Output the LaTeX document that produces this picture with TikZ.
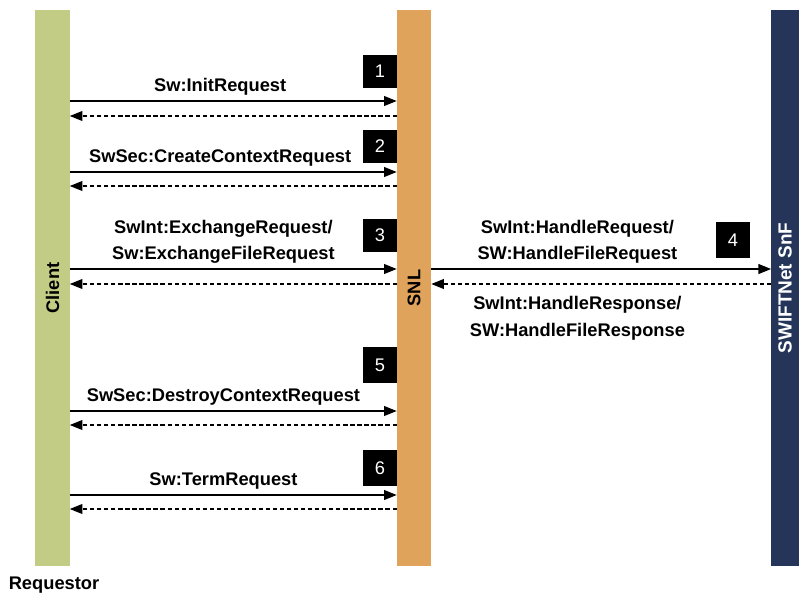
\documentclass[tikz,border=0pt]{standalone}
\usepackage{fontspec}
\setmainfont{Liberation Sans}
\usetikzlibrary{positioning,arrows.meta}
\definecolor{clientgreen}{HTML}{C3CC84}
\definecolor{snlorange}{HTML}{E0A35C}
\definecolor{snfnavy}{HTML}{253559}

\begin{document}
\begin{tikzpicture}[%
    x=0.025cm, y=-0.025cm,
    font=\bfseries\fontsize{13}{19}\selectfont,
    req/.style={-{Triangle[length=9pt,width=7pt]}, line width=1pt},
    resp/.style={req, dash pattern=on 3pt off 2pt},
    lifeline/.style={minimum width=0.85cm, minimum height=13.9cm, inner sep=0pt},
    numbox/.style={fill=black, text=white, font=\fontsize{13}{15}\selectfont,
                   minimum width=0.85cm, minimum height=0.83cm, inner sep=0pt},
    msg/.style={pos=0.47, above=0pt, align=center}
  ]

  \useasboundingbox (0,0) rectangle (799,599);

  % lifelines
  \node[lifeline, fill=clientgreen] (client) at (52.5,288) {};
  \node[lifeline, fill=snlorange]   (snl)    at (414,288) {};
  \node[lifeline, fill=snfnavy, minimum width=0.68cm] (snf) at (785,288) {};

  \node[rotate=90] (clientlbl) at (client) {Client};
  \node[rotate=90] (snllbl) at (snl) {SNL};
  \node[rotate=90, text=white, font=\bfseries\fontsize{13.5}{15}\selectfont] (snflbl) at (snf) {SWIFTNet SnF};
  \node (requestor) at (54,585) {Requestor};

  % step numbers
  \node[numbox] (n1) at (380,71.5) {1};
  \node[numbox] (n2) at (380,146.5) {2};
  \node[numbox] (n3) at (380,235.5) {3};
  \node[numbox, minimum height=0.9cm] (n4) at (733,240) {4};
  \node[numbox, minimum height=0.9cm] (n5) at (380,365) {5};
  \node[numbox, minimum height=0.9cm] (n6) at (380,468) {6};

  % message rows
  \coordinate (m1) at (0,101);  \coordinate (r1) at (0,116);
  \coordinate (m2) at (0,172);  \coordinate (r2) at (0,186);
  \coordinate (m3) at (0,269);  \coordinate (r3) at (0,284);
  \coordinate (m5) at (0,411);  \coordinate (r5) at (0,425);
  \coordinate (m6) at (0,495);  \coordinate (r6) at (0,509);

  \draw[req] (client.east |- m1) -- node[msg, pos=0.46] {Sw:InitRequest} (snl.west |- m1);
  \draw[resp] (snl.west |- r1) -- (client.east |- r1);

  \draw[req] (client.east |- m2) -- node[msg, pos=0.46] {SwSec:CreateContextRequest} (snl.west |- m2);
  \draw[resp] (snl.west |- r2) -- (client.east |- r2);

  \draw[req] (client.east |- m3) -- node[msg] {SwInt:ExchangeRequest/\\Sw:ExchangeFileRequest} (snl.west |- m3);
  \draw[resp] (snl.west |- r3) -- (client.east |- r3);

  \draw[req] (snl.east |- m3) -- node[msg, pos=0.43] {SwInt:HandleRequest/\\SW:HandleFileRequest} (snf.west |- m3);
  \draw[resp] (snf.west |- r3) -- node[pos=0.57, below=5pt, align=center] {SwInt:HandleResponse/\\SW:HandleFileResponse} (snl.east |- r3);

  \draw[req] (client.east |- m5) -- node[msg] {SwSec:DestroyContextRequest} (snl.west |- m5);
  \draw[resp] (snl.west |- r5) -- (client.east |- r5);

  \draw[req] (client.east |- m6) -- node[msg] {Sw:TermRequest} (snl.west |- m6);
  \draw[resp] (snl.west |- r6) -- (client.east |- r6);

\end{tikzpicture}
\end{document}
